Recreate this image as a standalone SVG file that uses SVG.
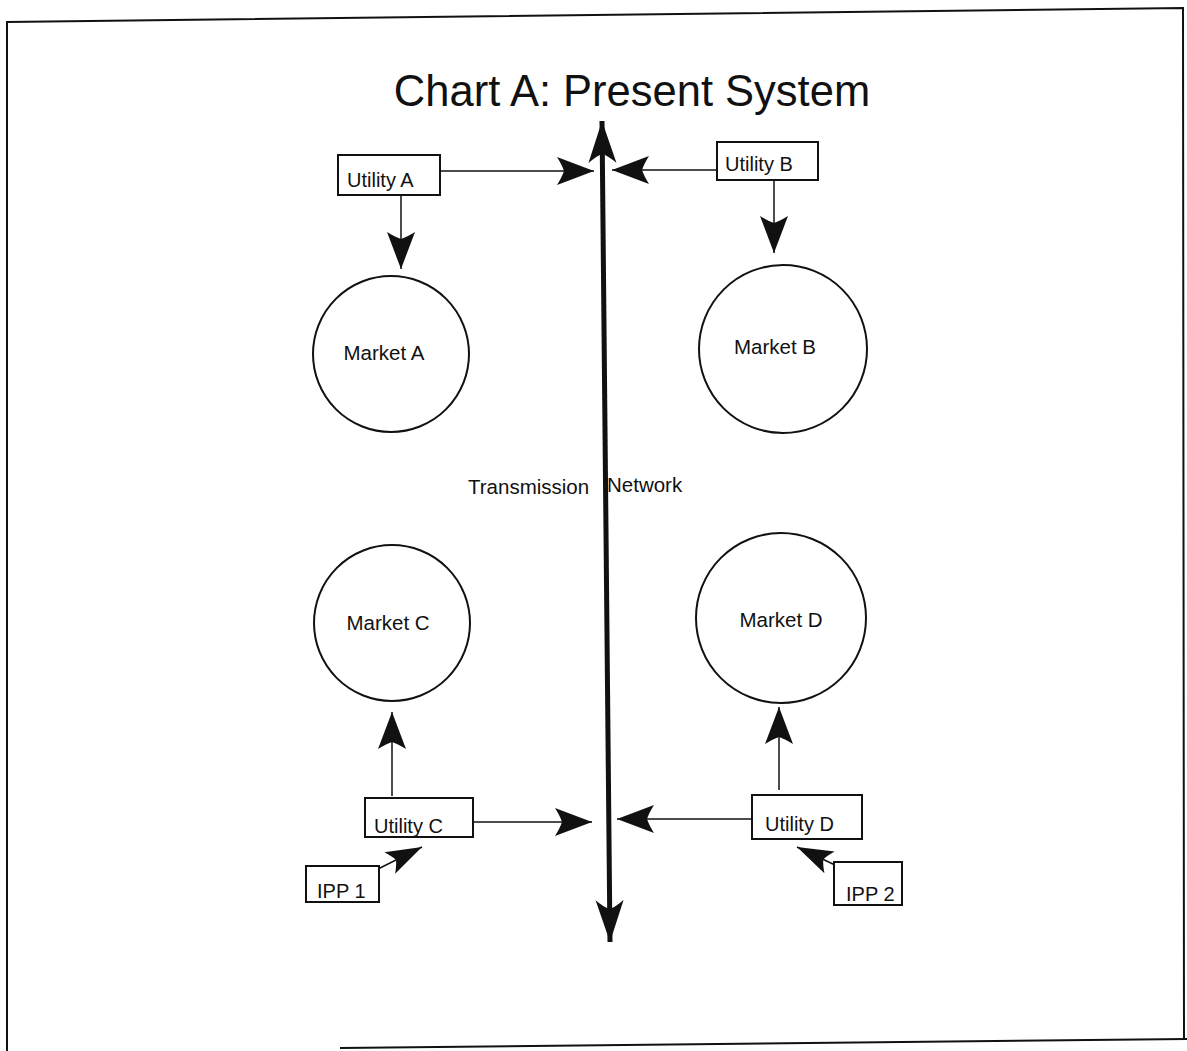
<svg xmlns="http://www.w3.org/2000/svg" width="1187" height="1051" viewBox="0 0 1187 1051">
<style>
text{font-family:"Liberation Sans",Arial,sans-serif;fill:#111}
.box{fill:#fff;stroke:#111;stroke-width:2}
.mk{fill:#fff;stroke:#111;stroke-width:2}
.lbl{font-size:20px}
.mlbl{font-size:20.5px}
.con{stroke:#111;stroke-width:1.5;fill:none}
</style>
<defs>
<marker id="ah" markerUnits="userSpaceOnUse" markerWidth="40" markerHeight="30" viewBox="0 0 40 30" refX="38" refY="15" orient="auto">
<path d="M38,15 L1,1 Q6,9 8,15 Q6,21 1,29 Z" fill="#111"/>
</marker>
<marker id="ahs" markerUnits="userSpaceOnUse" markerWidth="40" markerHeight="28" viewBox="0 0 40 28" refX="38" refY="14" orient="auto">
<path d="M38,14 L2,2 Q7,9 9,14 Q7,19 2,26 Z" fill="#111"/>
</marker>
<marker id="ahv" markerUnits="userSpaceOnUse" markerWidth="44" markerHeight="30" viewBox="0 0 44 30" refX="42" refY="15" orient="auto-start-reverse">
<path d="M42,15 L0,1 Q7,9 9,15 Q7,21 0,29 Z" fill="#111"/>
</marker>
</defs>
<rect width="1187" height="1051" fill="#fff"/>
<g id="border" fill="none" stroke="#111" stroke-width="2">
<path d="M7,1051 L7,22 L1183,8 L1184,1040"/>
<path d="M340,1048 L1187,1039"/>
</g>
<text id="title" x="632" y="106" font-size="43.5" text-anchor="middle">Chart A: Present System</text>
<g id="connectors">
<line x1="602" y1="121" x2="610" y2="942" stroke="#111" stroke-width="5" marker-start="url(#ahv)" marker-end="url(#ahv)"/>
<line class="con" x1="441" y1="171" x2="594" y2="171" marker-end="url(#ah)"/>
<line class="con" x1="716" y1="170" x2="612" y2="170" marker-end="url(#ah)"/>
<line class="con" x1="401" y1="196" x2="401" y2="269" marker-end="url(#ah)"/>
<line class="con" x1="774" y1="180" x2="774" y2="253" marker-end="url(#ah)"/>
<line class="con" x1="392" y1="796" x2="392" y2="712" marker-end="url(#ah)"/>
<line class="con" x1="779" y1="790" x2="779" y2="707" marker-end="url(#ah)"/>
<line class="con" x1="474" y1="822" x2="592" y2="822" marker-end="url(#ah)"/>
<line class="con" x1="751" y1="819" x2="617" y2="819" marker-end="url(#ah)"/>
<line class="con" x1="372" y1="872" x2="422" y2="847" marker-end="url(#ahs)"/>
<line class="con" x1="835" y1="865" x2="797" y2="847" marker-end="url(#ahs)"/>
</g>
<g id="utilityA"><rect class="box" x="338" y="155" width="102" height="40"/><text class="lbl" x="347" y="187">Utility A</text></g>
<g id="utilityB"><rect class="box" x="717" y="142" width="101" height="38"/><text class="lbl" x="725" y="171">Utility B</text></g>
<g id="utilityC"><rect class="box" x="365" y="798" width="108" height="39"/><text class="lbl" x="374" y="833">Utility C</text></g>
<g id="utilityD"><rect class="box" x="752" y="795" width="110" height="44"/><text class="lbl" x="765" y="831">Utility D</text></g>
<g id="ipp1"><rect class="box" x="306" y="866" width="73" height="36"/><text class="lbl" x="317" y="898">IPP 1</text></g>
<g id="ipp2"><rect class="box" x="834" y="862" width="68" height="43"/><text class="lbl" x="846" y="901">IPP 2</text></g>
<g id="marketA"><circle class="mk" cx="391" cy="354" r="78"/><text class="mlbl" x="384" y="360" text-anchor="middle">Market A</text></g>
<g id="marketB"><circle class="mk" cx="783" cy="349" r="84"/><text class="mlbl" x="775" y="354" text-anchor="middle">Market B</text></g>
<g id="marketC"><circle class="mk" cx="392" cy="623" r="78"/><text class="mlbl" x="388" y="630" text-anchor="middle">Market C</text></g>
<g id="marketD"><circle class="mk" cx="781" cy="618" r="85"/><text class="mlbl" x="781" y="627" text-anchor="middle">Market D</text></g>
<g id="network-label">
<text class="mlbl" x="468" y="494">Transmission</text>
<text class="mlbl" x="607" y="492">Network</text>
</g>
</svg>
